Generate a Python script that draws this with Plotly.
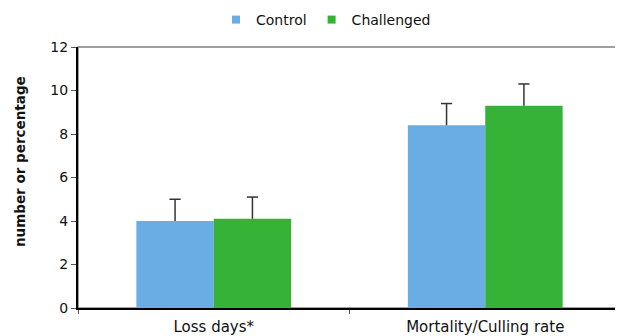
import plotly.graph_objects as go

categories = ["Loss days*", "Mortality/Culling rate"]
control = [4.0, 8.4]
challenged = [4.1, 9.3]
control_err = [1.0, 1.0]
challenged_err = [1.0, 1.0]
y_ticks = [0, 2, 4, 6, 8, 10, 12]
y_title = "number or percentage"

FONT = "DejaVu Sans"
BAR_W = 0.285
ERR_COLOR = "#333333"
pos = list(range(len(categories)))

# page body has an 8px default margin, so the figure is drawn 8px in from the window edge
W, H = 615, 328

fig = go.Figure()
series = [
    ("Control", control, control_err, "#6AACE4", -BAR_W),
    ("Challenged", challenged, challenged_err, "#36B237", 0.0),
]
for name, vals, errs, color, off in series:
    fig.add_trace(go.Bar(
        x=pos, y=vals, name=name, width=BAR_W, offset=off, showlegend=False,
        marker=dict(color=color, line=dict(width=0)),
        error_y=dict(type="data", array=errs, arrayminus=[0] * len(errs), symmetric=False,
                     color=ERR_COLOR, thickness=1.5, width=0),
    ))
for name, vals, errs, color, off in series:
    fig.add_trace(go.Scatter(
        x=[p + off + BAR_W / 2 for p in pos],
        y=[v + e for v, e in zip(vals, errs)],
        mode="markers", showlegend=False, hoverinfo="skip",
        marker=dict(symbol="line-ew-open", size=8, color=ERR_COLOR,
                    line=dict(color=ERR_COLOR, width=1.5)),
    ))
# legend entries (small square swatches as in the reference)
for name, vals, errs, color, off in series:
    fig.add_trace(go.Scatter(
        x=[None], y=[None], name=name, mode="markers",
        marker=dict(symbol="square", size=8, color=color),
    ))

fig.update_layout(
    width=W, height=H,
    margin=dict(l=70, r=2, t=39, b=28, autoexpand=False),
    paper_bgcolor="white", plot_bgcolor="white",
    font=dict(family=FONT, size=14, color="#111111"),
    showlegend=True,
    legend=dict(orientation="h", xref="container", x=208 / W, xanchor="left",
                yref="container", y=1 - 12 / H, yanchor="middle",
                font=dict(size=14), itemwidth=30, traceorder="normal",
                bgcolor="rgba(0,0,0,0)"),
    xaxis=dict(
        range=[-0.5, len(categories) - 0.5],
        tickvals=pos, ticktext=categories, ticks="",
        minor=dict(tickvals=[p - 0.5 for p in pos] + [pos[-1] + 0.5], ticks="outside",
                   ticklen=4, tickcolor="#555555", showgrid=False),
        showline=True, linecolor="black", linewidth=2, ticklabelstandoff=4,
        tickfont=dict(size=15), showgrid=False, zeroline=False,
    ),
    yaxis=dict(
        range=[0, 12], tickvals=y_ticks, showline=True, linecolor="black", linewidth=2,
        ticks="outside", ticklen=5, tickcolor="#555555", showgrid=False, zeroline=False,
        tickfont=dict(size=14),
    ),
    annotations=[dict(text="<b>" + y_title + "</b>", textangle=-90, showarrow=False,
                      xref="paper", yref="paper", x=0, y=(308 - 162) / 261,
                      xanchor="center", yanchor="middle", xshift=-58,
                      font=dict(size=13.5, color="#111111"))],
    shapes=[dict(type="rect", xref="paper", yref="paper", x0=0, x1=1, y0=0, y1=1,
                 line=dict(color="#808080", width=1.5), layer="below")],
)

fig.write_html("out.html")
